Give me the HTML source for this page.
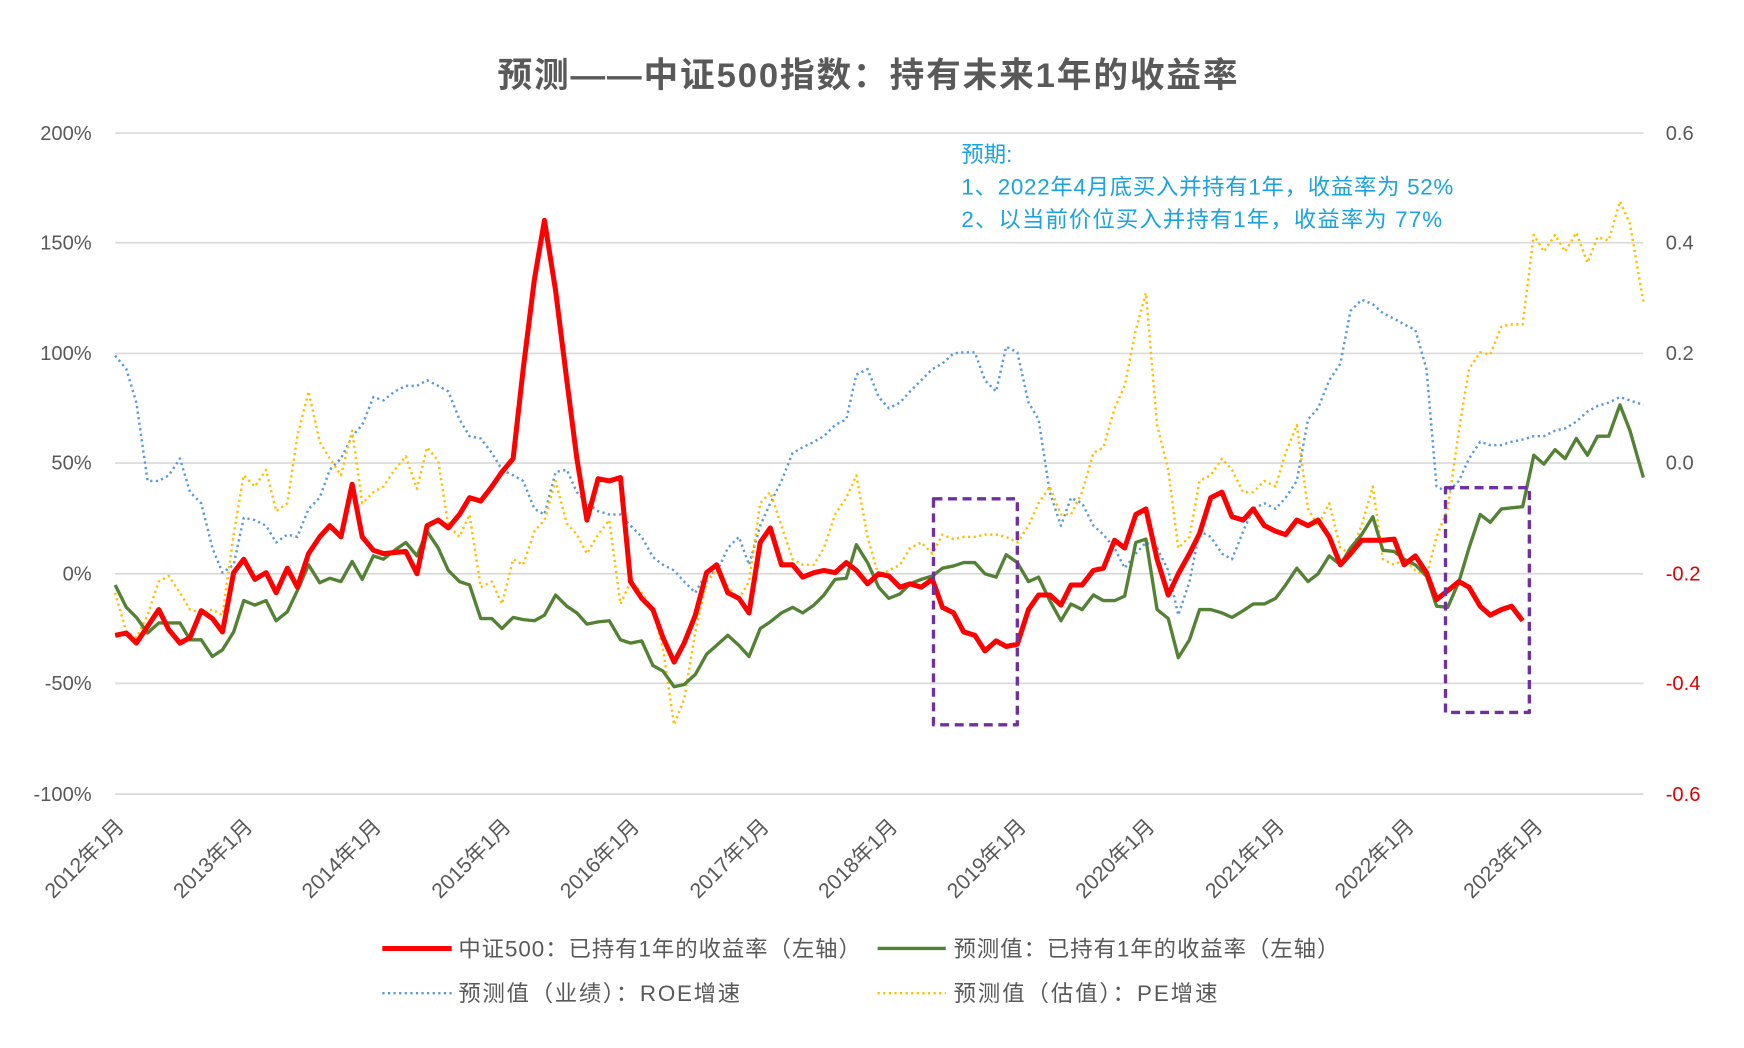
<!DOCTYPE html>
<html><head><meta charset="utf-8"><style>
html,body{margin:0;padding:0;background:#fff;}
svg{display:block;}
text{font-family:"Liberation Sans","Noto Sans CJK SC",sans-serif;}
</style></head><body>
<svg width="1744" height="1048" viewBox="0 0 1560 937" preserveAspectRatio="none" xmlns="http://www.w3.org/2000/svg">
<rect width="1560" height="937" fill="#fff"/>
<text x="776" y="78" text-anchor="middle" font-size="31" font-weight="bold" fill="#595959" textLength="662" lengthAdjust="spacing">预测——中证500指数：持有未来1年的收益率</text>
<g stroke="#d9d9d9" stroke-width="1.5">
<line x1="103" x2="1470" y1="119" y2="119"/><line x1="103" x2="1470" y1="217" y2="217"/>
<line x1="103" x2="1470" y1="316" y2="316"/><line x1="103" x2="1470" y1="414" y2="414"/>
<line x1="103" x2="1470" y1="513" y2="513"/><line x1="103" x2="1470" y1="611" y2="611"/>
<line x1="103" x2="1470" y1="710" y2="710"/>
</g>
<g font-size="18" fill="#595959" text-anchor="end">
<text x="82" y="125">200%</text><text x="82" y="223">150%</text><text x="82" y="322">100%</text>
<text x="82" y="420">50%</text><text x="82" y="519">0%</text><text x="82" y="617">-50%</text><text x="82" y="716">-100%</text>
</g>
<g font-size="18" text-anchor="start">
<text x="1490" y="125" fill="#595959">0.6</text><text x="1490" y="223" fill="#595959">0.4</text>
<text x="1490" y="322" fill="#595959">0.2</text><text x="1490" y="420" fill="#595959">0.0</text>
<text x="1490" y="519" fill="#e00000">-0.2</text><text x="1490" y="617" fill="#e00000">-0.4</text>
<text x="1490" y="716" fill="#e00000">-0.6</text>
</g>
<g font-size="19" fill="#595959" text-anchor="end">
<text transform="translate(112,740) rotate(-45)">2012年1月</text>
<text transform="translate(227,740) rotate(-45)">2013年1月</text>
<text transform="translate(342,740) rotate(-45)">2014年1月</text>
<text transform="translate(458,740) rotate(-45)">2015年1月</text>
<text transform="translate(573,740) rotate(-45)">2016年1月</text>
<text transform="translate(689,740) rotate(-45)">2017年1月</text>
<text transform="translate(804,740) rotate(-45)">2018年1月</text>
<text transform="translate(919,740) rotate(-45)">2019年1月</text>
<text transform="translate(1034,740) rotate(-45)">2020年1月</text>
<text transform="translate(1150,740) rotate(-45)">2021年1月</text>
<text transform="translate(1266,740) rotate(-45)">2022年1月</text>
<text transform="translate(1381,740) rotate(-45)">2023年1月</text>
</g>
<g fill="none" stroke-linejoin="round">
<polyline stroke="#5b9bd5" stroke-width="2.2" stroke-dasharray="2,3" points="103,318 113,330 122,360 132,430 142,430 151,425 161,410 170,440 180,450 190,490 199,512 209,505 218,463 228,465 238,470 247,485 257,478 266,480 276,455 286,445 295,420 305,410 315,390 324,380 334,355 343,358 353,350 363,345 373,345 382,340 392,345 401,350 411,375 420,390 430,392 440,405 449,420 459,425 468,430 478,455 487,460 497,422 507,420 516,440 525,450 535,457 545,460 555,460 564,470 574,480 584,498 593,505 603,510 612,520 622,530 632,512 641,512 651,490 661,480 670,505 680,470 689,450 699,430 709,405 718,400 728,395 737,390 747,380 757,375 766,335 776,330 786,355 795,365 805,360 814,350 824,340 834,330 843,325 853,316 862,315 872,315 881,340 891,350 900,310 910,315 920,360 929,375 939,440 949,470 958,445 968,450 978,470 987,478 997,490 1006,508 1016,495 1025,485 1035,490 1045,510 1054,550 1064,520 1073,475 1083,480 1093,495 1102,500 1112,475 1121,455 1131,450 1141,455 1150,445 1160,430 1170,375 1179,365 1189,340 1199,325 1208,278 1218,268 1228,272 1237,280 1247,285 1256,290 1266,295 1276,330 1285,435 1295,440 1305,430 1314,410 1324,395 1333,398 1343,398 1352,395 1362,393 1372,390 1381,390 1391,385 1400,383 1410,377 1420,368 1429,363 1439,360 1449,355 1458,358 1470,362"/>
<polyline stroke="#ffc000" stroke-width="2.2" stroke-dasharray="2,3" points="103,530 113,565 122,570 132,550 142,520 151,515 161,530 170,545 180,548 190,545 199,550 209,478 218,425 228,435 238,420 247,457 257,450 266,390 276,350 286,395 295,410 305,425 315,385 324,450 334,440 343,435 353,420 363,408 373,437 382,400 392,412 401,470 411,480 420,460 430,525 440,520 449,540 459,500 468,505 478,475 487,465 497,430 507,468 516,478 525,495 535,478 545,465 555,540 564,520 574,530 584,545 593,580 603,648 612,625 622,565 632,520 641,510 651,525 661,535 670,520 680,450 689,440 699,470 709,500 718,505 728,505 737,490 747,460 757,445 766,425 776,480 786,515 795,510 805,505 814,490 824,485 834,495 843,478 853,482 862,480 872,480 881,478 891,478 900,480 910,485 920,470 929,450 939,435 949,460 958,460 968,440 978,405 987,400 997,365 1006,345 1016,295 1025,262 1035,380 1045,420 1054,490 1064,480 1073,430 1083,425 1093,410 1102,420 1112,440 1121,440 1131,430 1141,435 1150,405 1160,380 1170,455 1179,470 1189,450 1199,490 1208,495 1218,470 1228,435 1237,500 1247,505 1256,500 1266,510 1276,515 1285,480 1295,455 1305,385 1314,330 1324,315 1333,317 1343,292 1352,290 1362,290 1372,210 1381,225 1391,210 1400,225 1410,208 1420,235 1429,212 1439,215 1449,180 1458,200 1470,270"/>
<polyline stroke="#548235" stroke-width="3" points="103,523 113,543 122,552 132,566 142,557 151,557 161,557 170,572 180,572 190,587 199,581 209,565 218,537 228,541 238,537 247,555 257,547 266,528 276,505 286,521 295,517 305,520 315,502 324,518 334,497 343,500 353,492 363,485 373,497 382,475 392,490 401,510 411,520 420,523 430,553 440,553 449,562 459,552 468,554 478,555 487,550 497,532 507,542 516,548 525,558 535,556 545,555 555,572 564,575 574,573 584,595 593,600 603,614 612,612 622,603 632,585 641,577 651,568 661,577 670,587 680,562 689,556 699,548 709,543 718,548 728,541 737,532 747,518 757,517 766,487 776,503 786,525 795,535 805,531 814,522 824,518 834,515 843,508 853,506 862,503 872,503 881,513 891,516 900,496 910,503 920,520 929,516 939,537 949,555 958,540 968,545 978,532 987,537 997,537 1006,533 1016,485 1025,482 1035,545 1045,553 1054,588 1064,572 1073,545 1083,545 1093,548 1102,552 1112,546 1121,540 1131,540 1141,535 1150,523 1160,508 1170,520 1179,513 1189,497 1199,505 1208,490 1218,478 1228,462 1237,492 1247,493 1256,500 1266,505 1276,515 1285,542 1295,543 1305,520 1314,490 1324,460 1333,467 1343,455 1352,454 1362,453 1372,407 1381,415 1391,402 1400,410 1410,392 1420,407 1429,390 1439,390 1449,362 1458,385 1470,427"/>
<polyline stroke="#ff0000" stroke-width="4.5" points="103,568 113,566 122,575 132,560 142,545 151,563 161,575 170,570 180,546 190,553 199,565 209,512 218,500 228,518 238,512 247,530 257,508 266,525 276,495 286,480 295,470 305,480 315,433 324,480 334,492 343,495 353,494 363,493 373,513 382,470 392,465 401,472 411,460 420,445 430,448 440,435 449,422 459,410 468,330 478,250 487,197 497,260 507,340 516,410 525,465 535,428 545,430 555,427 564,520 574,535 584,545 593,570 603,592 612,575 622,550 632,512 641,505 651,530 661,535 670,548 680,485 689,472 699,505 709,505 718,516 728,512 737,510 747,512 757,503 766,510 776,522 786,513 795,515 805,525 814,522 824,525 834,518 843,543 853,548 862,565 872,568 881,582 891,573 900,578 910,576 920,545 929,532 939,532 949,541 958,523 968,523 978,510 987,508 997,483 1006,490 1016,460 1025,455 1035,500 1045,532 1054,513 1064,495 1073,477 1083,445 1093,440 1102,462 1112,465 1121,455 1131,470 1141,475 1150,478 1160,465 1170,470 1179,465 1189,480 1199,505 1208,495 1218,483 1228,483 1237,483 1247,482 1256,505 1266,497 1276,512 1285,536 1295,528 1305,520 1314,525 1324,542 1333,550 1343,545 1352,542 1362,555"/>
<rect x="835" y="446" width="75" height="202" stroke="#7030a0" stroke-width="3" stroke-dasharray="8,5"/>
<rect x="1293" y="436" width="75" height="201" stroke="#7030a0" stroke-width="3" stroke-dasharray="8,5"/>
</g>
<g font-size="20" fill="#1aa3dc">
<text x="860" y="145">预期:</text>
<text x="860" y="174" textLength="440" lengthAdjust="spacing">1、2022年4月底买入并持有1年，收益率为 52%</text>
<text x="860" y="203" textLength="430" lengthAdjust="spacing">2、以当前价位买入并持有1年，收益率为 77%</text>
</g>
<g font-size="20" fill="#595959">
<line x1="342" x2="404" y1="848" y2="848" stroke="#ff0000" stroke-width="4.5"/>
<text x="410" y="855" textLength="360" lengthAdjust="spacing">中证500：已持有1年的收益率（左轴）</text>
<line x1="785" x2="846" y1="848" y2="848" stroke="#548235" stroke-width="3"/>
<text x="853" y="855" textLength="345" lengthAdjust="spacing">预测值：已持有1年的收益率（左轴）</text>
<line x1="342" x2="404" y1="888" y2="888" stroke="#5b9bd5" stroke-width="2.2" stroke-dasharray="2,3"/>
<text x="410" y="895" textLength="252" lengthAdjust="spacing">预测值（业绩）：ROE增速</text>
<line x1="785" x2="846" y1="888" y2="888" stroke="#ffc000" stroke-width="2.2" stroke-dasharray="2,3"/>
<text x="853" y="895" textLength="236" lengthAdjust="spacing">预测值（估值）：PE增速</text>
</g>
</svg>
</body></html>
